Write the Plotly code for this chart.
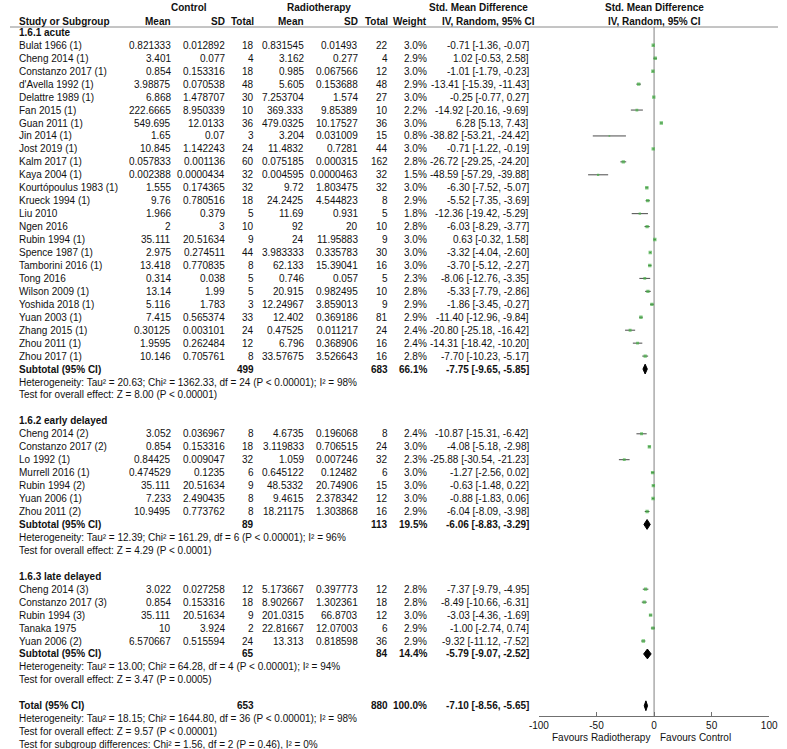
import numpy as np
import plotly.graph_objects as go

# ---------------- data ----------------
study = ["Bulat 1966 (1)", "Cheng 2014 (1)", "Constanzo 2017 (1)", "d'Avella 1992 (1)", "Delattre 1989 (1)",
         "Fan 2015 (1)", "Guan 2011 (1)", "Jin 2014 (1)", "Jost 2019 (1)", "Kalm 2017 (1)", "Kaya 2004 (1)",
         "Kourtópoulus 1983 (1)", "Krueck 1994 (1)", "Liu 2010", "Ngen 2016", "Rubin 1994 (1)", "Spence 1987 (1)",
         "Tamborini 2016 (1)", "Tong 2016", "Wilson 2009 (1)", "Yoshida 2018 (1)", "Yuan 2003 (1)", "Zhang 2015 (1)",
         "Zhou 2011 (1)", "Zhou 2017 (1)",
         "Cheng 2014 (2)", "Constanzo 2017 (2)", "Lo 1992 (1)", "Murrell 2016 (1)", "Rubin 1994 (2)", "Yuan 2006 (1)",
         "Zhou 2011 (2)",
         "Cheng 2014 (3)", "Constanzo 2017 (3)", "Rubin 1994 (3)", "Tanaka 1975", "Yuan 2006 (2)"]
group = [0] * 25 + [1] * 7 + [2] * 5

ctrl_mean = [0.821333, 3.401, 0.854, 3.98875, 6.868, 222.6665, 549.695, 1.65, 10.845, 0.057833, 0.002388, 1.555,
             9.76, 1.966, 2, 35.111, 2.975, 13.418, 0.314, 13.14, 5.116, 7.415, 0.30125, 1.9595, 10.146,
             3.052, 0.854, 0.84425, 0.474529, 35.111, 7.233, 10.9495,
             3.022, 0.854, 35.111, 10, 6.570667]
ctrl_sd = [0.012892, 0.077, 0.153316, 0.070538, 1.478707, 8.950339, 12.0133, 0.07, 1.142243, 0.001136, 0.0000434,
           0.174365, 0.780516, 0.379, 3, 20.51634, 0.274511, 0.770835, 0.038, 1.99, 1.783, 0.565374, 0.003101,
           0.262484, 0.705761,
           0.036967, 0.153316, 0.009047, 0.1235, 20.51634, 2.490435, 0.773762,
           0.027258, 0.153316, 20.51634, 3.924, 0.515594]
ctrl_n = [18, 4, 18, 48, 30, 10, 36, 3, 24, 60, 32, 32, 18, 5, 10, 9, 44, 8, 5, 5, 3, 33, 24, 12, 8,
          8, 18, 32, 6, 9, 8, 8,
          12, 18, 9, 2, 24]
rt_mean = [0.831545, 3.162, 0.985, 5.605, 7.253704, 369.333, 479.0325, 3.204, 11.4832, 0.075185, 0.004595, 9.72,
           24.2425, 11.69, 92, 24, 3.983333, 62.133, 0.746, 20.915, 12.24967, 12.402, 0.47525, 6.796, 33.57675,
           4.6735, 3.119833, 1.059, 0.645122, 48.5332, 9.4615, 18.21175,
           5.173667, 8.902667, 201.0315, 22.81667, 13.313]
rt_sd = [0.01493, 0.277, 0.067566, 0.153688, 1.574, 9.85389, 10.17527, 0.031009, 0.7281, 0.000315, 0.0000463,
         1.803475, 4.544823, 0.931, 20, 11.95883, 0.335783, 15.39041, 0.057, 0.982495, 3.859013, 0.369186, 0.011217,
         0.368906, 3.526643,
         0.196068, 0.706515, 0.007246, 0.12482, 20.74906, 2.378342, 1.303868,
         0.397773, 1.302361, 66.8703, 12.07003, 0.818598]
rt_n = [22, 4, 12, 48, 27, 10, 36, 15, 44, 162, 32, 32, 8, 5, 10, 9, 30, 16, 5, 10, 9, 81, 24, 16, 16,
        8, 24, 32, 6, 15, 12, 16,
        12, 18, 12, 6, 36]
weight = [3.0, 2.9, 3.0, 2.9, 3.0, 2.2, 3.0, 0.8, 3.0, 2.8, 1.5, 3.0, 2.9, 1.8, 2.8, 3.0, 3.0, 3.0, 2.3, 2.8, 2.9,
          2.9, 2.4, 2.4, 2.8,
          2.4, 3.0, 2.3, 3.0, 3.0, 3.0, 2.9,
          2.8, 2.8, 3.0, 2.9, 2.9]
smd = [-0.71, 1.02, -1.01, -13.41, -0.25, -14.92, 6.28, -38.82, -0.71, -26.72, -48.59, -6.30, -5.52, -12.36, -6.03,
       0.63, -3.32, -3.70, -8.06, -5.33, -1.86, -11.40, -20.80, -14.31, -7.70,
       -10.87, -4.08, -25.88, -1.27, -0.63, -0.88, -6.04,
       -7.37, -8.49, -3.03, -1.00, -9.32]
ci_lo = [-1.36, -0.53, -1.79, -15.39, -0.77, -20.16, 5.13, -53.21, -1.22, -29.25, -57.29, -7.52, -7.35, -19.42,
         -8.29, -0.32, -4.04, -5.12, -12.76, -7.79, -3.45, -12.96, -25.18, -18.42, -10.23,
         -15.31, -5.18, -30.54, -2.56, -1.48, -1.83, -8.09,
         -9.79, -10.66, -4.36, -2.74, -11.12]
ci_hi = [-0.07, 2.58, -0.23, -11.43, 0.27, -9.69, 7.43, -24.42, -0.19, -24.20, -39.88, -5.07, -3.69, -5.29, -3.77,
         1.58, -2.60, -2.27, -3.35, -2.86, -0.27, -9.84, -16.42, -10.20, -5.17,
         -6.42, -2.98, -21.23, 0.02, 0.22, 0.06, -3.98,
         -4.95, -6.31, -1.69, 0.74, -7.52]

sub_label = ["1.6.1 acute", "1.6.2 early delayed", "1.6.3 late delayed"]
sub_ctrl_total = [499, 89, 65]
sub_rt_total = [683, 113, 84]
sub_weight = [66.1, 19.5, 14.4]
sub_smd = [-7.75, -6.06, -5.79]
sub_lo = [-9.65, -8.83, -9.07]
sub_hi = [-5.85, -3.29, -2.52]
sub_het = ["Heterogeneity: Tau² = 20.63; Chi² = 1362.33, df = 24 (P < 0.00001); I² = 98%",
           "Heterogeneity: Tau² = 12.39; Chi² = 161.29, df = 6 (P < 0.00001); I² = 96%",
           "Heterogeneity: Tau² = 13.00; Chi² = 64.28, df = 4 (P < 0.00001); I² = 94%"]
sub_test = ["Test for overall effect: Z = 8.00 (P < 0.00001)",
            "Test for overall effect: Z = 4.29 (P < 0.0001)",
            "Test for overall effect: Z = 3.47 (P = 0.0005)"]

total_ctrl = 653
total_rt = 880
total_weight = 100.0
total_smd = -7.10
total_lo = -8.56
total_hi = -5.65
total_lines = ["Heterogeneity: Tau² = 18.15; Chi² = 1644.80, df = 36 (P < 0.00001); I² = 98%",
               "Test for overall effect: Z = 9.57 (P < 0.00001)",
               "Test for subgroup differences: Chi² = 1.56, df = 2 (P = 0.46), I² = 0%"]

axis_ticks = [-100, -50, 0, 50, 100]
axis_ticktext = ["-100", "-50", "0", "50", "100"]
favours_left = "Favours Radiotherapy"
favours_right = "Favours Control"

# ---------------- layout constants ----------------
W, H = 787, 749
ROW_PX = 12.95
TOP_PX = 32.35  # pixel of row 0
FONT = "Liberation Sans, Arial, sans-serif"
FS = 10
TXT = "#111111"
GREEN = "#45b045"


def px_to_row(p):
    return (p - TOP_PX) / ROW_PX


COL_STUDY = 8
C_MEAN, C_SD, C_N = 166, 221, 251
R_MEAN, R_SD, R_N = 302, 358, 388
COL_W, COL_SMD = 428, 533
PLOT_X0, PLOT_X1 = 542, 778
AXIS_PX = 716

fig = go.Figure()


def fmt(v):
    return np.format_float_positional(float(v), trim='-')


def add_text(xp, row, text, anchor='right', bold=False):
    fig.add_annotation(x=xp / W, xref='paper', y=row, yref='y',
                       text=('<b>%s</b>' % text) if bold else text,
                       xanchor=anchor, yanchor='middle', showarrow=False,
                       font=dict(size=FS, color=TXT, family=FONT), borderpad=0)


# header
hr1, hr2 = px_to_row(7), px_to_row(21)
add_text(183, hr1, "Control", 'center', True)
add_text(317, hr1, "Radiotherapy", 'center', True)
add_text(480, hr1, "Std. Mean Difference", 'center', True)
add_text(660, hr1, "Std. Mean Difference", 'center', True)
add_text(COL_STUDY, hr2, "Study or Subgroup", 'left', True)
for xp, t in [(C_MEAN, "Mean"), (C_SD, "SD"), (C_N, "Total"), (R_MEAN, "Mean"), (R_SD, "SD"), (R_N, "Total"),
              (COL_W, "Weight")]:
    add_text(xp, hr2, t, 'right', True)
add_text(490, hr2, "IV, Random, 95% CI", 'center', True)
add_text(660, hr2, "IV, Random, 95% CI", 'center', True)
header_line_row = px_to_row(27)
fig.add_shape(type='line', xref='paper', yref='y', x0=0, x1=1, y0=header_line_row, y1=header_line_row,
              line=dict(color='#8a8a8a', width=1))

# rows
ci_x, ci_y, sq_x, sq_y, sq_s = [], [], [], [], []
dia_rows = []
r = 0
for g in range(3):
    add_text(COL_STUDY, r, sub_label[g], 'left', True)
    r += 1
    for i in [k for k in range(len(study)) if group[k] == g]:
        add_text(COL_STUDY, r, study[i], 'left')
        add_text(C_MEAN, r, fmt(ctrl_mean[i]))
        add_text(C_SD, r, fmt(ctrl_sd[i]))
        add_text(C_N, r, str(ctrl_n[i]))
        add_text(R_MEAN, r, fmt(rt_mean[i]))
        add_text(R_SD, r, fmt(rt_sd[i]))
        add_text(R_N, r, str(rt_n[i]))
        add_text(COL_W, r, "%.1f%%" % weight[i])
        add_text(COL_SMD, r, "%.2f [%.2f, %.2f]" % (smd[i], ci_lo[i], ci_hi[i]))
        ci_x += [ci_lo[i], ci_hi[i], None]
        ci_y += [r, r, None]
        sq_x.append(smd[i])
        sq_y.append(r)
        sq_s.append(1.0 + weight[i] * 0.8)
        r += 1
    add_text(COL_STUDY, r, "Subtotal (95% CI)", 'left', True)
    add_text(C_N, r, str(sub_ctrl_total[g]), 'right', True)
    add_text(R_N, r, str(sub_rt_total[g]), 'right', True)
    add_text(COL_W, r, "%.1f%%" % sub_weight[g], 'right', True)
    add_text(COL_SMD, r, "%.2f [%.2f, %.2f]" % (sub_smd[g], sub_lo[g], sub_hi[g]), 'right', True)
    dia_rows.append((sub_smd[g], sub_lo[g], sub_hi[g], r))
    add_text(COL_STUDY, r + 1, sub_het[g], 'left')
    add_text(COL_STUDY, r + 2, sub_test[g], 'left')
    r += 4

add_text(COL_STUDY, r, "Total (95% CI)", 'left', True)
add_text(C_N, r, str(total_ctrl), 'right', True)
add_text(R_N, r, str(total_rt), 'right', True)
add_text(COL_W, r, "%.1f%%" % total_weight, 'right', True)
add_text(COL_SMD, r, "%.2f [%.2f, %.2f]" % (total_smd, total_lo, total_hi), 'right', True)
dia_rows.append((total_smd, total_lo, total_hi, r))
for k, t in enumerate(total_lines):
    add_text(COL_STUDY, r + 1 + k, t, 'left')

axis_row = px_to_row(AXIS_PX)

# null line
fig.add_trace(go.Scatter(x=[0, 0], y=[header_line_row, axis_row], mode='lines',
                         line=dict(color='#808080', width=1), hoverinfo='skip', showlegend=False))
# CI lines
fig.add_trace(go.Scatter(x=ci_x, y=ci_y, mode='lines', line=dict(color='#4a4a4a', width=1),
                         hoverinfo='skip', showlegend=False))
# squares
fig.add_trace(go.Scatter(x=sq_x, y=sq_y, mode='markers',
                         marker=dict(symbol='square', size=sq_s, color=GREEN, line=dict(width=0)),
                         showlegend=False))
# diamonds
HALF = 0.38
for est, lo, hi, rr in dia_rows:
    fig.add_trace(go.Scatter(x=[lo, est, hi, est, lo], y=[rr, rr - HALF, rr, rr + HALF, rr],
                             mode='lines', fill='toself', fillcolor='black',
                             line=dict(color='black', width=1), hoverinfo='skip', showlegend=False))

fav_row = px_to_row(737)
fig.add_annotation(x=657 / W, xref='paper', y=fav_row, yref='y', text=favours_left, xanchor='right',
                   yanchor='middle', showarrow=False, font=dict(size=FS, color=TXT, family=FONT), borderpad=0)
fig.add_annotation(x=665 / W, xref='paper', y=fav_row, yref='y', text=favours_right, xanchor='left',
                   yanchor='middle', showarrow=False, font=dict(size=FS, color=TXT, family=FONT), borderpad=0)

fig.update_layout(
    width=W, height=H, autosize=False,
    margin=dict(l=0, r=0, t=0, b=0),
    paper_bgcolor='white', plot_bgcolor='white',
    showlegend=False,
    xaxis=dict(domain=[PLOT_X0 / W, PLOT_X1 / W], range=[-100, 100], anchor='free',
               position=(H - AXIS_PX) / H, showline=True, linecolor='#707070', linewidth=1,
               ticks='inside', ticklen=4, tickcolor='#707070', tickvals=axis_ticks, ticktext=axis_ticktext,
               tickfont=dict(size=FS, color=TXT, family=FONT), showgrid=False, zeroline=False),
    yaxis=dict(domain=[0, 1], range=[px_to_row(H), px_to_row(0)], visible=False,
               showgrid=False, zeroline=False),
)

fig.write_html("out.html", post_script="document.body.style.margin='0';",
               config={'displayModeBar': False})
